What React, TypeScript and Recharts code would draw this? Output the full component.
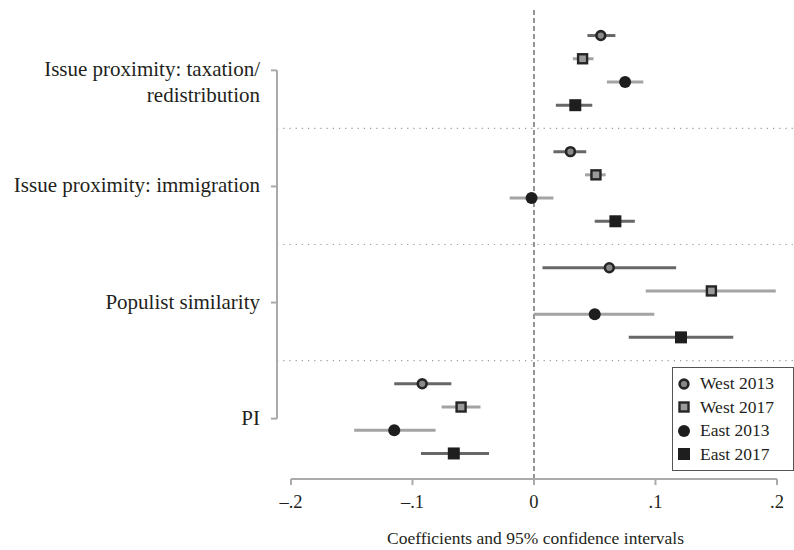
import React from "react"
import {
  ScatterChart,
  Scatter,
  XAxis,
  YAxis,
  ErrorBar,
  ReferenceLine,
} from "recharts"

// rows, top to bottom
const categories = [
  ["Issue proximity: taxation/", "redistribution"],
  ["Issue proximity: immigration"],
  ["Populist similarity"],
  ["PI"],
]

const seriesNames = ["West 2013", "West 2017", "East 2013", "East 2017"]

// coefficient, lower bound, upper bound per category
const west2013 = [
  [0.055, 0.044, 0.067],
  [0.030, 0.016, 0.043],
  [0.062, 0.007, 0.117],
  [-0.092, -0.115, -0.068],
]
const west2017 = [
  [0.040, 0.032, 0.049],
  [0.051, 0.042, 0.059],
  [0.146, 0.092, 0.199],
  [-0.060, -0.076, -0.044],
]
const east2013 = [
  [0.075, 0.060, 0.090],
  [-0.002, -0.020, 0.016],
  [0.050, 0.000, 0.099],
  [-0.115, -0.148, -0.081],
]
const east2017 = [
  [0.034, 0.018, 0.048],
  [0.067, 0.050, 0.083],
  [0.121, 0.078, 0.164],
  [-0.066, -0.093, -0.037],
]

const xTicks = [-0.2, -0.1, 0, 0.1, 0.2]
const xTickLabels = ["\u2013.2", "\u2013.1", "0", ".1", ".2"]

const FONT = "'Liberation Serif', 'DejaVu Serif', serif"
const AXIS_GRAY = "#aaaaab"
const DARK_BAR = "#676767"
const LIGHT_BAR = "#a3a3a3"

const GROUP = 5
const X_MIN = -0.2115
const X_MAX = 0.214
const Y_MIN = -1.1
const Y_MAX = 19.1

const build = (rows: number[][], s: number) =>
  rows.map(([v, lo, hi], g) => ({
    x: v,
    y: g * GROUP + s,
    err: [v - lo, hi - v],
  }))

const allSeries = [west2013, west2017, east2013, east2017].map((r, i) => build(r, i))
const barColors = [DARK_BAR, LIGHT_BAR, LIGHT_BAR, DARK_BAR]
const groupCenters = categories.map((_, g) => g * GROUP + 1.5)
const separators = [1, 2, 3].map((g) => g * GROUP - 1)

function Marker({ kind, cx, cy }: { kind: number; cx: number; cy: number }) {
  if (kind === 0)
    return <circle cx={cx} cy={cy} r={4.4} fill="#8a8a8a" stroke="#252525" strokeWidth={2.6} />
  if (kind === 1)
    return (
      <rect x={cx - 4.5} y={cy - 4.5} width={9} height={9} fill="#9a9a9a" stroke="#252525" strokeWidth={2.4} />
    )
  if (kind === 2) return <circle cx={cx} cy={cy} r={6} fill="#1e1e1e" />
  return <rect x={cx - 6} y={cy - 6} width={12} height={12} fill="#1e1e1e" />
}

function YTick(props: any) {
  const { x, y, payload } = props
  const idx = groupCenters.indexOf(payload.value)
  const lines = categories[idx] || []
  return (
    <g>
      <line x1={x + 2} x2={x + 8} y1={y} y2={y} stroke={AXIS_GRAY} strokeWidth={2} />
      <text x={x - 9} y={y} textAnchor="end" fontFamily={FONT} fontSize={21} fill="#231f20">
        {lines.map((l: string, i: number) => (
          <tspan key={i} x={x - 9} dy={i === 0 ? 6 : 26}>
            {l}
          </tspan>
        ))}
      </text>
    </g>
  )
}

function XTick(props: any) {
  const { x, y, payload } = props
  const i = xTicks.indexOf(payload.value)
  return (
    <g>
      <line x1={x} x2={x} y1={y - 8} y2={y - 2} stroke={AXIS_GRAY} strokeWidth={2} />
      <text x={x} y={y + 21} textAnchor="middle" fontFamily={FONT} fontSize={18.5} fill="#231f20">
        {xTickLabels[i]}
      </text>
    </g>
  )
}

function LegendBox() {
  return (
    <div
      style={{
        position: "absolute",
        left: 672,
        top: 367,
        width: 122,
        height: 104,
        boxSizing: "border-box",
        border: "1.5px solid #555",
        background: "#fff",
        padding: "4px 0 0 4px",
        fontFamily: FONT,
        fontSize: 17.5,
        color: "#231f20",
        lineHeight: "23.5px",
      }}
    >
      {seriesNames.map((n, i) => (
        <div key={n} style={{ display: "flex", alignItems: "center" }}>
          <svg width={16} height={16}>
            <Marker kind={i} cx={7} cy={8} />
          </svg>
          <span style={{ marginLeft: 7 }}>{n}</span>
        </div>
      ))}
    </div>
  )
}

export default function App() {
  return (
    <div style={{ position: "absolute", left: 0, top: 0, width: 794, height: 550, background: "#fff" }}>
      <ScatterChart width={794} height={550} margin={{ top: 10, right: 0, bottom: 0, left: 0 }}>
        <XAxis
          type="number"
          dataKey="x"
          domain={[X_MIN, X_MAX]}
          ticks={xTicks}
          allowDataOverflow
          axisLine={false}
          tickLine={false}
          tick={<XTick />}
          height={71}
          label={{
            value: "Coefficients and 95% confidence intervals",
            position: "insideBottom",
            offset: 6,
            fontFamily: FONT,
            fontSize: 17.5,
            fill: "#231f20",
          }}
        />
        <YAxis
          type="number"
          dataKey="y"
          domain={[Y_MIN, Y_MAX]}
          reversed
          allowDataOverflow
          ticks={groupCenters}
          width={277}
          axisLine={false}
          tickLine={false}
          tick={<YTick />}
        />
        {separators.map((s) => (
          <ReferenceLine key={s} y={s} stroke="#9a9a9a" strokeWidth={1.2} strokeDasharray="1.2 5" />
        ))}
        <ReferenceLine x={0} stroke="#666" strokeWidth={1.4} strokeDasharray="5 3" />
        <ReferenceLine
          segment={[
            { x: X_MIN, y: groupCenters[0] },
            { x: X_MIN, y: groupCenters[3] },
          ]}
          stroke={AXIS_GRAY}
          strokeWidth={2}
          ifOverflow="visible"
        />
        <ReferenceLine
          segment={[
            { x: -0.2, y: Y_MAX },
            { x: 0.2, y: Y_MAX },
          ]}
          stroke={AXIS_GRAY}
          strokeWidth={2}
          ifOverflow="visible"
        />
        {allSeries.map((data, i) => (
          <Scatter
            key={seriesNames[i]}
            name={seriesNames[i]}
            data={data}
            isAnimationActive={false}
            shape={(p: any) => <Marker kind={i} cx={p.cx} cy={p.cy} />}
          >
            <ErrorBar dataKey="err" direction="x" width={0} stroke={barColors[i]} strokeWidth={3} />
          </Scatter>
        ))}
      </ScatterChart>
      <LegendBox />
    </div>
  )
}
